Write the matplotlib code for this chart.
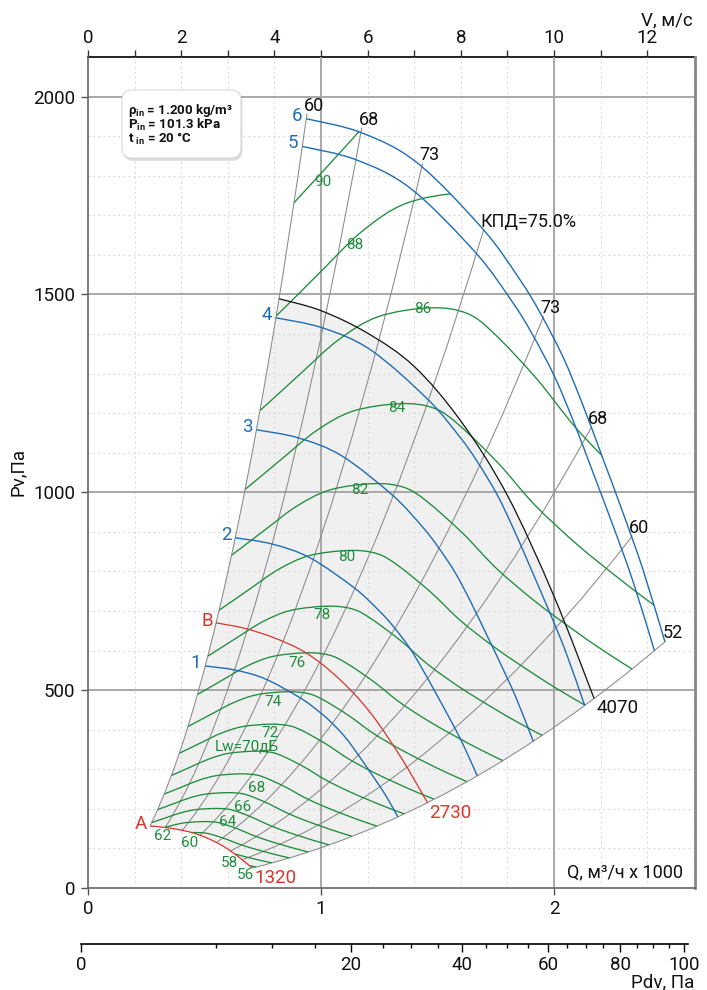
import numpy as np
import matplotlib
matplotlib.use('Agg')
import matplotlib.pyplot as plt
from matplotlib.path import Path
from matplotlib.patches import PathPatch, FancyBboxPatch
from matplotlib.transforms import IdentityTransform
import matplotlib.patheffects as path_effects

plt.rcParams['font.family'] = ['Roboto', 'DejaVu Sans']
plt.rcParams['mathtext.fontset'] = 'custom'
plt.rcParams['mathtext.rm'] = 'Roboto'

# ---- data: Q in 1000 m3/h, Pv in Pa ----
# outer blue curve "6", from the left boundary line down to the lower boundary line
curve6_q = [0.937, 1.172, 1.412, 1.695, 1.854, 1.940, 2.040, 2.124, 2.210, 2.296, 2.382, 2.476]
curve6_p = [1944, 1909, 1833, 1665, 1537, 1454, 1340, 1220, 1085, 948, 804, 622]
blue_names = ['1', '2', '3', '4', '5', '6']
blue_start_p = [561, 885, 1158, 1441, 1874, 1944]   # Pv where each blue curve starts

# black curve, max speed
speed_max = 4070
black_q = [0.820, 1.0, 1.2, 1.4, 1.6, 1.8, 2.0, 2.172]
black_p = [1489, 1459, 1402, 1318, 1180, 992, 737, 479]
red_speeds = [1320, 2730]
red_names = ['A', 'B']

# efficiency lines Pv = k * Q^2
eff_labels = ['60', '68', '73', 'КПД=75.0%', '73', '68', '60', '52']
eff_k = [2215, 1392, 888, 577, 378, 249.5, 163, 101.5]
eff_q_end = [0.940, 1.175, 1.436, 1.698, 1.955, 2.160, 2.335, 2.478]

# sound power lines: reference line Lw=80 and start Q of every line on the left boundary
lw80_q = [0.563, 0.644, 0.70, 0.82, 0.95, 1.12, 1.24, 1.33, 1.47, 1.60, 1.75, 1.90, 2.02, 2.133]
lw80_p = [702, 735, 758, 806, 840, 853, 845, 815, 748, 675, 606, 546, 501, 462]
lw_levels = [56, 58, 60, 62, 64, 66, 68, 70, 72, 74, 76, 78, 80, 82, 84, 86, 88, 90]
lw_start_q = [0.1905, 0.2085, 0.2282, 0.2497, 0.2733, 0.2992, 0.3274, 0.3584, 0.3922, 0.4293,
              0.4699, 0.5144, 0.563, 0.6162, 0.6744, 0.7381, 0.8079, 0.8843]

# label spots (layout)
lw_label_pos = {56: (0.674, 33), 58: (0.609, 63), 60: (0.438, 114), 62: (0.322, 131), 64: (0.601, 167),
                66: (0.665, 205), 68: (0.725, 253), 70: (0.682, 357), 72: (0.781, 392), 74: (0.794, 470),
                76: (0.897, 569), 78: (1.004, 690), 80: (1.112, 837), 82: (1.167, 1006), 84: (1.326, 1214),
                86: (1.438, 1464), 88: (1.146, 1626), 90: (1.009, 1785)}

BLUE = '#1f6db3'
GREEN = '#1e8c3c'
RED = '#d8352c'
GRAY = '#8a8a8a'

k_left = eff_k[0]
k_low = eff_k[-1]


def smooth(q, p):
    # cubic bezier chain through the read points
    pts = np.column_stack([q, p]).astype(float)
    n = len(pts)
    out = []
    for i in range(n - 1):
        a = pts[max(i - 1, 0)]
        b, c = pts[i], pts[i + 1]
        d = pts[min(i + 2, n - 1)]
        out += [b + (c - a) / 6, c - (d - b) / 6, c]
    return pts[0], np.array(out)


def scaled(chain, s):
    f = np.array([s, s * s])
    return chain[0] * f, chain[1] * f


def reverse(chain):
    allp = np.vstack([chain[0][None, :], chain[1]])[::-1]
    return allp[0], allp[1:]


def parab(k, q1, q2):
    return np.array([[(q1 + q2) / 2, k * q1 * q2], [q2, k * q2 * q2]])


def build(start, segs, close=False):
    verts = [start]
    codes = [Path.MOVETO]
    for code, pts in segs:
        for v in pts:
            verts.append(v)
            codes.append(code)
    if close:
        verts.append(start)
        codes.append(Path.CLOSEPOLY)
    return Path(np.array(verts), codes)


W, H = 707, 990
fig = plt.figure(figsize=(W / 100, H / 100), dpi=100)


def fx(px):
    return px / W


def fy(py):
    return 1 - py / H


ax = fig.add_axes([fx(88), fy(888), fx(695) - fx(88), fy(57) - fy(888)])
ax.set_xlim(0, 2.605)
ax.set_ylim(0, 2100)

# grid
for q in np.arange(1, 14) * 0.2:
    if abs(q - round(q)) > 1e-6:
        ax.axvline(q, color='#d4d4d4', lw=0.8, ls=(0, (1.5, 3)), zorder=1.2)
for p in range(100, 2100, 100):
    if p % 500:
        ax.axhline(p, color='#d4d4d4', lw=0.8, ls=(0, (1.5, 3)), zorder=1.2)
for q in [1, 2]:
    ax.axvline(q, color='#a8a8a8', lw=1.4, zorder=1.3)
for p in [500, 1000, 1500, 2000]:
    ax.axhline(p, color='#a8a8a8', lw=1.4, zorder=1.3)

# curves
c6 = smooth(curve6_q, curve6_p)
blk = smooth(black_q, black_p)
lw80 = smooth(lw80_q, lw80_p)
red_low = scaled(blk, red_speeds[0] / speed_max)
A = red_low[0]
E_low = red_low[1][-1]
S6 = c6[0]
E6 = c6[1][-1]
B_start = blk[0]
B_end = blk[1][-1]

# shaded working area
shade = build(A, [(Path.CURVE3, parab(k_left, A[0], B_start[0])),
                  (Path.CURVE4, blk[1]),
                  (Path.CURVE3, parab(k_low, B_end[0], E_low[0]))] +
              [(Path.CURVE4, reverse(red_low)[1])], close=True)
ax.add_patch(PathPatch(shade, facecolor='#f0f0f0', edgecolor='none', zorder=1))

# clip regions
c6r = reverse(c6)
region = build(A, [(Path.CURVE4, red_low[1]),
                   (Path.CURVE3, parab(k_low, E_low[0], E6[0])),
                   (Path.LINETO, [E6]),
                   (Path.CURVE4, c6r[1]),
                   (Path.CURVE3, parab(k_left, S6[0], A[0]))], close=True)
q_top = np.sqrt(5000 / k_left)
open_region = build(A, [(Path.CURVE4, red_low[1]),
                        (Path.CURVE3, parab(k_low, E_low[0], 3.0)),
                        (Path.LINETO, [[3.0, 5000], [q_top, 5000]]),
                        (Path.CURVE3, parab(k_left, q_top, A[0]))], close=True)

# efficiency lines
for i, (lab, k, qe) in enumerate(zip(eff_labels, eff_k, eff_q_end)):
    if i == 0:
        q0 = A[0]
    elif i == len(eff_k) - 1:
        q0 = E_low[0]
    else:
        q0 = 0.05
    pth = build(np.array([q0, k * q0 * q0]), [(Path.CURVE3, parab(k, q0, qe))])
    patch = PathPatch(pth, fill=False, edgecolor=GRAY, lw=0.75, zorder=2)
    ax.add_patch(patch)
    if 0 < i < len(eff_k) - 1:
        patch.set_clip_path(open_region, ax.transData)
    ax.annotate(lab, (qe, k * qe * qe), xytext=(-3, 3), textcoords='offset pixels',
                ha='left', va='baseline', fontsize=13, color='#111', zorder=6)

# sound power lines
for lw, qs in zip(lw_levels, lw_start_q):
    s = qs / lw80_q[0]
    st, vv = scaled(lw80, s)
    patch = PathPatch(build(st, [(Path.CURVE4, vv)]), fill=False, edgecolor=GREEN, lw=0.95, zorder=3)
    ax.add_patch(patch)
    patch.set_clip_path(region, ax.transData)
    lab = 'Lw=70дБ' if lw == 70 else str(lw)
    ax.text(*lw_label_pos[lw], lab, fontsize=11, color=GREEN, ha='center', va='center', zorder=6)

# blue curves
for name, ps in zip(blue_names, blue_start_p):
    s = np.sqrt(ps / curve6_p[0])
    st, vv = scaled(c6, s)
    ax.add_patch(PathPatch(build(st, [(Path.CURVE4, vv)]), fill=False, edgecolor=BLUE, lw=1.0, zorder=4))
    ax.annotate(name, st, xytext=(-4, 3), textcoords='offset pixels', ha='right', va='center',
                fontsize=13.5, color=BLUE, zorder=6)

# speed curves
for name, n in zip(red_names, red_speeds):
    st, vv = scaled(blk, n / speed_max)
    ax.add_patch(PathPatch(build(st, [(Path.CURVE4, vv)]), fill=False, edgecolor=RED, lw=0.9, zorder=4))
    ax.annotate(name, st, xytext=(-3, 2), textcoords='offset pixels', ha='right', va='center',
                fontsize=13.5, color=RED, zorder=6)
    ax.annotate(str(n), vv[-1], xytext=(2, -1), textcoords='offset pixels', ha='left', va='top',
                fontsize=13.5, color=RED, zorder=6)
ax.add_patch(PathPatch(build(blk[0], [(Path.CURVE4, blk[1])]), fill=False, edgecolor='#111', lw=0.9, zorder=4))
ax.annotate(str(speed_max), B_end, xytext=(2, -1), textcoords='offset pixels', ha='left', va='top',
            fontsize=13.5, color='#111', zorder=6)

# axes styling
ax.set_xticks([0, 1, 2])
ax.set_yticks([0, 500, 1000, 1500, 2000])
ax.tick_params(direction='out', length=5, width=1, color='#555', labelsize=13.5, labelcolor='#111', pad=4)
ax.spines['top'].set_visible(False)
ax.spines['left'].set_color('#666')
ax.spines['bottom'].set_color('#666')
ax.spines['right'].set_color('#888')
ax.spines['left'].set_linewidth(1.2)
ax.spines['bottom'].set_linewidth(1.2)
ax.spines['right'].set_linewidth(2)

sec = ax.secondary_xaxis('top', functions=(lambda q: q * 5, lambda v: v / 5))
sec.set_xticks(range(0, 13, 2))
sec.set_xticks(range(1, 13, 2), minor=True)
sec.tick_params(which='both', direction='out', length=5, width=1, color='#333', labelsize=13.5,
                labelcolor='#111', pad=2)
sec.spines['top'].set_color('black')
sec.spines['top'].set_linewidth(1.2)

# Pdv scale
axp = fig.add_axes([fx(81), fy(944), fx(688) - fx(81), 0.0005])
axp.set_xscale('function', functions=(lambda x: np.sqrt(np.clip(x, 0, None)), lambda x: np.square(x)))
axp.set_xlim(0, 101.3)
axp.set_xticks([0, 20, 40, 60, 80, 100])
axp.set_xticks([5, 10, 15, 25, 30, 35, 45, 50, 55, 65, 70, 75, 85, 90, 95], minor=True)
axp.set_yticks([])
for s in ['top', 'left', 'right']:
    axp.spines[s].set_visible(False)
axp.spines['bottom'].set_linewidth(1.2)
axp.patch.set_alpha(0)
axp.tick_params(which='major', direction='out', length=6, width=1, labelsize=13.5, labelcolor='#111', pad=3)
axp.tick_params(which='minor', direction='out', length=3, width=1)

# axis titles
fig.text(fx(18), fy(472), 'Pv,Па', rotation=90, ha='center', va='center', fontsize=13.5, color='#111')
fig.text(fx(693), fy(25), 'V, м/с', ha='right', va='baseline', fontsize=13.5, color='#111')
fig.text(fx(683), fy(877), 'Q, м³/ч x 1000', ha='right', va='baseline', fontsize=13, color='#111')
fig.text(fx(694), fy(987), 'Pdv, Па', ha='right', va='baseline', fontsize=13.5, color='#111')

# inlet conditions box
box = FancyBboxPatch((122, H - 158), 119, 68, boxstyle='round,pad=0,rounding_size=10',
                     transform=IdentityTransform(), facecolor='white', edgecolor='#d8d8d8', lw=0.8, zorder=10)
box.set_path_effects([path_effects.SimplePatchShadow(offset=(1, -2), shadow_rgbFace='#999999', alpha=0.35),
                      path_effects.Normal()])
fig.add_artist(box)
info = ['ρ$_{\\mathregular{in}}$ = 1.200 kg/m³', 'P$_{\\mathregular{in}}$ = 101.3 kPa', 't $_{\\mathregular{in}}$ = 20 °C']
for i, line in enumerate(info):
    fig.text(fx(128), fy(114 + 14.5 * i), line, ha='left', va='baseline', fontsize=9.5,
             fontweight='semibold', color='#111', zorder=11)

fig.savefig('out.png', dpi=100)
